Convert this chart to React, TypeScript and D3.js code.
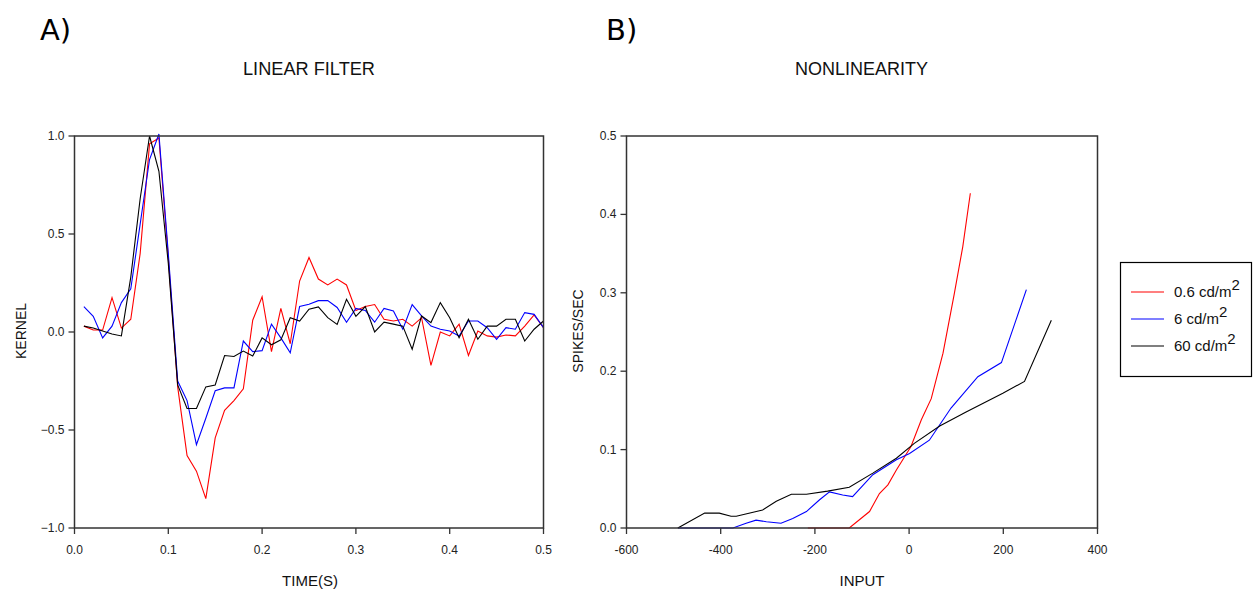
import React from "react";
import * as d3 from "d3";

// ---------- Panel A: linear filter (kernel vs time) ----------
const timeS = [
  0.01, 0.02, 0.03, 0.04, 0.05, 0.06, 0.07, 0.08, 0.09, 0.10,
  0.11, 0.12, 0.13, 0.14, 0.15, 0.16, 0.17, 0.18, 0.19, 0.20,
  0.21, 0.22, 0.23, 0.24, 0.25, 0.26, 0.27, 0.28, 0.29, 0.30,
  0.31, 0.32, 0.33, 0.34, 0.35, 0.36, 0.37, 0.38, 0.39, 0.40,
  0.41, 0.42, 0.43, 0.44, 0.45, 0.46, 0.47, 0.48, 0.49, 0.50,
];
const kernelRed = [
  0.03, 0.01, 0.01, 0.175, 0.02, 0.065, 0.40, 0.96, 0.99, 0.38,
  -0.28, -0.63, -0.71, -0.85, -0.54, -0.40, -0.35, -0.29, 0.06, 0.18,
  -0.10, 0.12, -0.06, 0.26, 0.38, 0.27, 0.24, 0.27, 0.24, 0.11,
  0.13, 0.14, 0.065, 0.056, 0.065, 0.03, 0.073, -0.17, 0.0, -0.02,
  0.04, -0.12, 0.005, -0.02, -0.026, -0.015, -0.02, 0.03, 0.087, 0.022,
];
const kernelBlue = [
  0.13, 0.08, -0.03, 0.03, 0.15, 0.22, 0.55, 0.88, 1.01, 0.40,
  -0.25, -0.35, -0.575, -0.44, -0.30, -0.285, -0.285, -0.046, -0.10, -0.095,
  0.04, -0.03, -0.106, 0.13, 0.142, 0.16, 0.16, 0.125, 0.05, 0.12,
  0.11, 0.05, 0.12, 0.107, 0.014, 0.14, 0.082, 0.03, 0.014, 0.005,
  -0.02, 0.056, 0.056, 0.022, -0.037, 0.022, 0.014, 0.099, 0.09, 0.022,
];
const kernelBlack = [
  0.03, 0.02, 0.005, -0.01, -0.02, 0.28, 0.68, 1.0, 0.82, 0.35,
  -0.27, -0.39, -0.39, -0.28, -0.27, -0.12, -0.125, -0.097, -0.123, -0.03,
  -0.065, -0.04, 0.073, 0.056, 0.116, 0.128, 0.073, 0.039, 0.167, 0.08,
  0.13, 0.0, 0.05, 0.04, 0.03, -0.088, 0.082, 0.048, 0.15, 0.073,
  -0.029, 0.065, -0.037, 0.03, 0.03, 0.065, 0.065, -0.046, 0.014, 0.056,
];
const timeTicks = [0.0, 0.1, 0.2, 0.3, 0.4, 0.5];
const kernelTicks = [-1.0, -0.5, 0.0, 0.5, 1.0];

// ---------- Panel B: nonlinearity (spikes/sec vs input) ----------
const inputRed = [-215, -170, -127, -84, -63, -45, -27, 4, 26, 47, 72, 96, 114, 130];
const rateRed = [0, 0, 0, 0.021, 0.044, 0.055, 0.074, 0.104, 0.138, 0.165, 0.223, 0.299, 0.359, 0.427];
const inputBlue = [-491, -374, -346, -325, -303, -272, -247, -218, -190, -169, -141, -120, -77, -27, 1, 43, 89, 146, 196, 249];
const rateBlue = [0, 0, 0.006, 0.01, 0.008, 0.006, 0.012, 0.021, 0.036, 0.046, 0.042, 0.04, 0.068, 0.087, 0.095, 0.112, 0.153, 0.193, 0.211, 0.304];
const inputBlack = [-491, -434, -403, -378, -367, -311, -282, -250, -218, -173, -127, -77, -27, 11, 65, 121, 199, 245, 302];
const rateBlack = [0, 0.019, 0.019, 0.015, 0.015, 0.023, 0.034, 0.043, 0.043, 0.047, 0.052, 0.07, 0.089, 0.108, 0.13, 0.148, 0.172, 0.187, 0.265];
const inputTicks = [-600, -400, -200, 0, 200, 400];
const rateTicks = [0.0, 0.1, 0.2, 0.3, 0.4, 0.5];

const legendLabels = ["0.6 cd/m", "6 cd/m", "60 cd/m"];
const seriesColors = ["#ff0000", "#0000ff", "#000000"];

const TICK_FONT = "'Liberation Sans Narrow', 'Liberation Sans', Arial, sans-serif";
const LABEL_FONT = "'Liberation Sans', Arial, sans-serif";
const FRAME = "#333333";

export default function App() {
  const xA = d3.scaleLinear().domain([0, 0.5]).range([74.5, 543.5]);
  const yA = d3.scaleLinear().domain([-1, 1]).range([528, 136]);
  const xB = d3.scaleLinear().domain([-600, 400]).range([626.5, 1097.5]);
  const yB = d3.scaleLinear().domain([0, 0.5]).range([528, 136]);

  const lineA = (vals: number[]) =>
    d3
      .line<number>()
      .x((_, i) => xA(timeS[i]))
      .y((v) => yA(v))(vals) as string;

  const lineB = (xs: number[], ys: number[]) =>
    d3
      .line<number>()
      .x((v) => xB(v))
      .y((_, i) => yB(ys[i]))(xs) as string;

  const kernels = [kernelRed, kernelBlue, kernelBlack];
  const nl = [
    [inputRed, rateRed],
    [inputBlue, rateBlue],
    [inputBlack, rateBlack],
  ];

  const fmt1 = d3.format(".1f");

  return (
    <svg
      width={1253}
      height={592}
      style={{ position: "absolute", left: 0, top: 0, background: "#fff" }}
    >
      {/* Panel letters */}
      <text x={40} y={40} fontFamily="'DejaVu Sans', sans-serif" fontSize={29} fill="#000">A)</text>
      <text x={606} y={40} fontFamily="'DejaVu Sans', sans-serif" fontSize={29} fill="#000">B)</text>

      {/* Titles */}
      <text x={243} y={75} textLength={132} lengthAdjust="spacingAndGlyphs" fontFamily={TICK_FONT} fontSize={18} fill="#111">LINEAR FILTER</text>
      <text x={795} y={75} textLength={133} lengthAdjust="spacingAndGlyphs" fontFamily={TICK_FONT} fontSize={18} fill="#111">NONLINEARITY</text>

      {/* ---------- Panel A ---------- */}
      <g>
        {kernels.map((k, i) => (
          <path key={i} d={lineA(k)} fill="none" stroke={seriesColors[i]} strokeWidth={1.1} />
        ))}
        <rect x={xA(0)} y={yA(1)} width={xA(0.5) - xA(0)} height={yA(-1) - yA(1)} fill="none" stroke={FRAME} strokeWidth={1.5} />
        {timeTicks.map((t) => (
          <g key={t}>
            <line x1={xA(t)} x2={xA(t)} y1={yA(-1)} y2={yA(-1) + 6} stroke={FRAME} strokeWidth={1.3} />
            <text x={xA(t)} y={yA(-1) + 26} textAnchor="middle" fontFamily={TICK_FONT} fontSize={12} fill="#222">{fmt1(t)}</text>
          </g>
        ))}
        {kernelTicks.map((v) => (
          <g key={v}>
            <line x1={xA(0) - 6} x2={xA(0)} y1={yA(v)} y2={yA(v)} stroke={FRAME} strokeWidth={1.3} />
            <text x={xA(0) - 10} y={yA(v) + 4} textAnchor="end" fontFamily={TICK_FONT} fontSize={12} fill="#222">{fmt1(v)}</text>
          </g>
        ))}
        <text x={310} y={586} textAnchor="middle" fontFamily={TICK_FONT} fontSize={15} fill="#111">TIME(S)</text>
        <text transform={`translate(26,331) rotate(-90)`} textAnchor="middle" fontFamily={LABEL_FONT} fontSize={14} fill="#111">KERNEL</text>
      </g>

      {/* ---------- Panel B ---------- */}
      <g>
        {nl.map(([xs, ys], i) => (
          <path key={i} d={lineB(xs, ys)} fill="none" stroke={seriesColors[i]} strokeWidth={1.1} />
        ))}
        <rect x={xB(-600)} y={yB(0.5)} width={xB(400) - xB(-600)} height={yB(0) - yB(0.5)} fill="none" stroke={FRAME} strokeWidth={1.5} />
        {inputTicks.map((t) => (
          <g key={t}>
            <line x1={xB(t)} x2={xB(t)} y1={yB(0)} y2={yB(0) + 6} stroke={FRAME} strokeWidth={1.3} />
            <text x={xB(t)} y={yB(0) + 26} textAnchor="middle" fontFamily={TICK_FONT} fontSize={12} fill="#222">{t}</text>
          </g>
        ))}
        {rateTicks.map((v) => (
          <g key={v}>
            <line x1={xB(-600) - 6} x2={xB(-600)} y1={yB(v)} y2={yB(v)} stroke={FRAME} strokeWidth={1.3} />
            <text x={xB(-600) - 10} y={yB(v) + 4} textAnchor="end" fontFamily={TICK_FONT} fontSize={12} fill="#222">{fmt1(v)}</text>
          </g>
        ))}
        <text x={862} y={586} textAnchor="middle" fontFamily={TICK_FONT} fontSize={15} fill="#111">INPUT</text>
        <text transform={`translate(583,331) rotate(-90)`} textAnchor="middle" fontFamily={LABEL_FONT} fontSize={14} fill="#111">SPIKES/SEC</text>
      </g>

      {/* ---------- Legend ---------- */}
      <g>
        <rect x={1120.5} y={262.5} width={131} height={114} fill="#fff" stroke="#000" strokeWidth={1.2} />
        {legendLabels.map((lab, i) => (
          <g key={lab}>
            <line x1={1131} x2={1164} y1={292 + i * 27} y2={292 + i * 27} stroke={seriesColors[i]} strokeWidth={1.1} />
            <text x={1174} y={297 + i * 27} fontFamily={TICK_FONT} fontSize={15} fill="#111">
              {lab}
              <tspan dy={-7} fontSize={15}>2</tspan>
            </text>
          </g>
        ))}
      </g>
    </svg>
  );
}
